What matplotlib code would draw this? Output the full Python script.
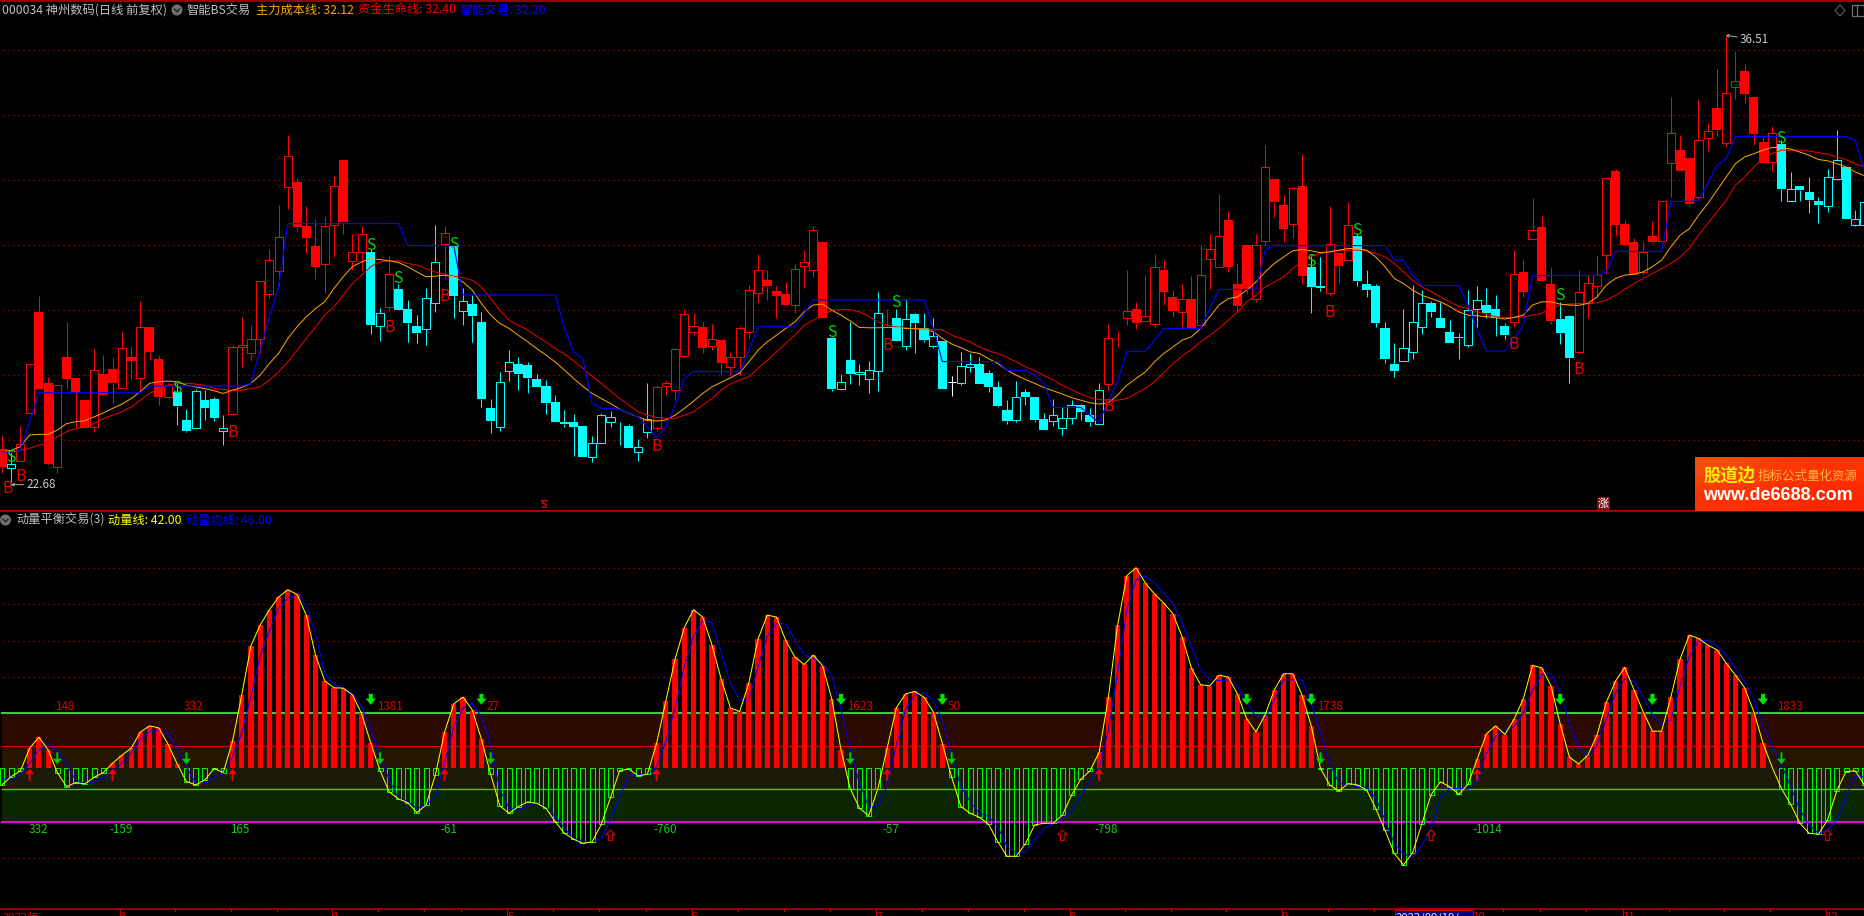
import numpy as np
import matplotlib
matplotlib.use("Agg")
import matplotlib.pyplot as plt
from matplotlib.patches import Rectangle, Circle, Polygon

plt.rcParams['font.family'] = ['Noto Sans CJK SC', 'DejaVu Sans']

# ---------- price panel data ----------
kinds = ("FHRRFFRFFF" "RFFRFRFFRC" "CHCCHRRRRR" "RRFFFRRFRR" "CHRCCCHHRC"
         "HCCCHHCCCC" "CCCCHHHCCH" "HRRRRRFRFR" "RRRFFFRRRF" "CHCHHHFCHC"
         "CHCWHHCCCC" "HCCCHHHCCH" "RFRFRRFFRF" "RRRFFFRRFF" "RFCCRFRCCC"
         "CCHHHCCCCH" "HCCCRFRFFC" "CRRRRFFFRF" "RRFFRRFRRF" "FFRCHCCCHH" "CHH")

body_top = [23.77,23.33,23.92,26.41,27.99,25.80,25.76,26.61,25.97,25.28,
26.20,26.08,26.24,26.90,26.61,27.52,27.52,26.54,25.74,25.54,
24.67,25.57,25.28,25.33,24.41,26.92,26.99,27.18,28.94,29.61,
30.31,32.81,31.99,30.64,30.02,30.65,31.87,32.67,29.83,30.41,
29.85,27.98,29.18,28.69,28.10,27.56,28.44,29.52,30.44,30.02,
28.32,28.24,27.68,25.04,25.83,26.47,26.41,26.36,25.93,25.71,
25.22,24.61,24.60,24.48,23.95,24.84,24.75,24.31,24.48,23.83,
24.69,25.69,25.80,26.87,27.92,27.58,27.52,27.15,27.13,26.62,
27.49,28.66,29.30,28.99,28.64,28.56,29.33,29.52,30.53,30.14,
27.21,25.83,26.51,26.15,26.20,27.95,27.98,27.80,27.78,27.93,
27.49,27.25,27.09,25.84,26.34,26.41,26.39,26.11,25.68,24.97,
25.37,25.53,25.38,24.69,24.84,24.74,25.14,25.12,24.81,25.61,
27.21,27.11,28.03,28.10,27.88,29.39,29.30,28.47,28.40,28.41,
29.12,29.95,30.35,30.82,28.87,30.05,30.07,32.47,32.08,31.28,
31.80,31.87,29.38,28.79,30.10,29.82,30.66,30.34,28.85,28.79,
27.50,26.41,26.90,27.70,28.26,28.27,27.81,27.38,27.24,28.07,
28.35,28.21,28.10,27.58,29.18,29.22,30.53,30.61,28.85,27.78,
27.87,28.62,28.90,29.15,32.13,32.33,30.70,30.16,29.83,30.33,
31.40,33.52,32.98,32.73,33.30,33.58,34.28,34.75,35.12,35.41,
34.61,33.22,33.52,33.18,31.79,31.87,31.69,31.42,32.16,32.66,
32.45,30.87,31.37]

body_bottom = [23.21,23.20,23.42,24.89,25.63,23.33,23.21,25.94,25.54,24.43,
24.46,25.45,25.80,25.67,26.49,25.95,26.77,25.37,25.39,25.11,
24.34,24.41,25.04,24.74,24.34,24.87,26.92,26.72,27.18,28.56,
29.25,31.85,30.62,30.28,29.39,29.46,30.66,30.76,29.58,29.85,
27.60,27.58,28.15,28.05,27.66,27.35,27.46,28.26,30.08,28.48,
28.03,27.88,25.32,24.64,24.46,26.19,26.10,25.97,25.69,25.20,
24.62,24.56,24.46,23.54,23.52,23.95,24.62,24.29,23.82,23.69,
24.31,24.43,25.72,25.61,26.65,27.38,26.89,26.95,26.43,26.31,
26.60,27.38,28.59,28.80,28.49,28.22,28.22,29.42,29.30,27.82,
25.62,25.64,26.09,26.10,25.92,26.19,27.95,27.11,26.96,27.66,
27.13,26.96,25.63,25.84,25.80,26.29,25.79,25.69,25.10,24.65,
24.66,25.39,24.68,24.37,24.63,24.41,24.72,24.92,24.62,24.56,
25.79,27.10,27.80,27.66,27.72,27.64,28.62,28.03,28.01,27.46,
27.59,29.64,29.39,29.39,28.19,28.69,28.41,30.19,31.37,30.55,
30.72,29.11,28.77,28.74,28.59,29.42,29.61,28.95,28.68,27.66,
26.55,26.19,26.49,26.75,27.52,28.00,27.50,27.05,27.20,26.99,
28.10,27.95,27.83,27.29,27.69,28.61,30.25,28.95,27.71,27.35,
26.59,26.75,28.28,28.80,29.76,30.68,30.05,29.13,29.23,30.15,
30.19,32.59,32.33,31.31,31.54,33.36,33.59,33.21,34.92,34.70,
33.47,32.57,32.60,31.79,31.40,31.74,31.44,31.29,31.27,32.08,
30.86,30.68,30.68]

highs = [24.18,23.69,24.48,26.41,28.48,26.00,25.76,27.68,25.97,25.28,
26.85,26.67,26.62,27.38,26.95,28.33,27.52,26.67,25.80,25.80,
25.00,25.64,25.59,25.39,24.84,26.98,27.85,27.59,28.94,29.95,
31.28,33.44,32.12,31.25,30.87,30.95,32.17,32.67,30.41,30.64,
29.95,28.13,29.74,28.87,28.38,27.90,28.72,30.67,30.64,30.05,
28.75,28.51,28.00,25.33,26.15,26.84,26.60,26.46,26.10,25.90,
25.44,24.98,24.87,24.48,24.18,24.90,24.95,24.62,24.54,24.08,
25.80,25.76,25.90,26.87,28.10,27.95,27.69,27.62,27.13,26.77,
27.56,28.82,29.78,29.30,28.79,28.92,29.46,29.90,30.60,30.14,
27.21,26.10,27.68,26.41,26.48,28.60,28.10,28.10,28.36,27.97,
27.98,27.80,27.09,26.02,26.75,26.72,26.60,26.21,25.87,25.28,
25.87,25.64,25.38,24.90,25.31,25.08,25.28,25.16,25.03,25.80,
27.62,27.41,29.30,28.31,29.13,29.78,29.59,28.67,28.87,29.10,
30.07,30.41,31.62,31.11,29.49,30.05,30.41,33.13,32.08,31.59,
31.80,32.87,29.74,29.69,31.25,29.82,31.37,30.41,29.30,28.87,
27.69,27.03,28.10,28.82,28.67,28.33,28.31,27.76,27.36,28.67,
28.80,28.72,28.51,27.66,29.90,29.62,31.52,30.94,29.39,28.31,
27.90,29.28,29.13,29.74,32.13,32.41,30.87,30.26,30.19,30.79,
31.40,34.60,33.44,32.73,34.51,33.80,35.49,36.51,36.02,35.62,
34.61,33.44,33.71,33.28,32.30,31.87,32.15,31.54,32.39,33.59,
32.45,31.15,31.52]

lows = [23.05,22.68,23.42,24.89,25.63,23.30,23.03,25.63,24.46,24.43,
24.31,25.45,25.18,25.67,25.94,25.54,26.51,25.12,25.39,24.51,
24.31,24.41,24.67,24.65,23.90,24.80,26.31,26.49,26.72,28.43,
28.79,31.18,30.49,29.80,29.02,28.59,29.69,30.41,29.30,29.26,
27.33,27.11,28.07,28.05,27.08,27.03,26.99,28.00,29.03,27.82,
27.59,27.08,25.06,24.28,24.34,25.88,25.59,25.49,25.69,24.85,
24.62,24.46,23.57,23.54,23.39,23.95,24.46,23.90,23.82,23.42,
24.12,24.33,25.44,25.33,26.60,27.28,26.72,26.82,26.05,26.05,
26.05,27.18,28.31,28.36,27.82,28.20,27.97,28.75,29.06,27.82,
25.57,25.61,25.77,25.74,25.51,25.57,27.56,27.11,26.84,26.72,
27.08,26.90,25.63,25.42,25.76,26.15,25.79,25.54,25.08,24.56,
24.62,25.13,24.62,24.37,24.48,24.21,24.54,24.67,24.48,24.56,
25.61,26.91,27.59,27.47,27.72,27.54,28.21,27.85,27.54,27.44,
27.49,28.69,29.39,29.23,28.00,28.56,28.31,30.05,30.92,30.15,
30.26,28.87,27.95,28.64,28.51,28.89,29.59,28.79,28.46,27.54,
26.43,26.00,26.49,26.56,27.33,27.85,27.49,27.05,26.56,26.92,
27.54,27.80,27.25,27.18,27.54,28.46,30.25,28.95,27.62,27.00,
25.82,26.75,27.82,28.46,29.18,30.33,30.05,29.13,29.13,30.10,
30.15,31.54,32.33,31.25,31.44,32.95,33.41,33.10,34.54,34.43,
33.13,32.57,32.33,31.41,31.40,31.42,31.05,30.74,31.08,32.05,
30.86,30.64,30.64]

cost_line = [23.69,23.74,23.85,24.21,24.23,24.23,24.36,24.56,24.62,24.65,
24.77,24.89,25.03,25.16,25.33,25.54,25.80,25.85,25.87,25.85,
25.74,25.69,25.64,25.57,25.49,25.59,25.67,25.80,26.05,26.41,
26.72,27.18,27.54,27.85,28.10,28.31,28.72,29.08,29.39,29.54,
29.64,29.61,29.57,29.52,29.39,29.23,29.08,29.10,29.13,29.08,
28.92,28.67,28.26,27.90,27.64,27.49,27.28,27.08,26.87,26.67,
26.46,26.21,25.95,25.71,25.49,25.33,25.18,25.00,24.87,24.77,
24.65,24.64,24.67,24.82,25.03,25.25,25.49,25.69,25.83,25.97,
26.12,26.46,26.82,27.08,27.28,27.49,27.69,28.00,28.21,28.24,
28.05,27.90,27.72,27.52,27.51,27.51,27.52,27.52,27.49,27.48,
27.47,27.39,27.18,27.01,26.90,26.77,26.72,26.56,26.41,26.21,
26.05,25.92,25.80,25.67,25.57,25.47,25.36,25.28,25.20,25.16,
25.20,25.44,25.74,25.95,26.15,26.46,26.72,26.92,27.13,27.23,
27.49,27.85,28.21,28.41,28.46,28.67,28.92,29.23,29.49,29.69,
29.88,29.92,29.88,29.82,29.85,29.90,29.95,29.95,29.90,29.69,
29.39,29.03,28.87,28.67,28.51,28.41,28.31,28.17,28.00,27.90,
27.88,27.85,27.82,27.78,27.83,27.90,28.21,28.31,28.31,28.24,
28.21,28.20,28.26,28.46,28.82,29.03,29.13,29.16,29.23,29.39,
29.59,30.00,30.36,30.56,30.97,31.33,31.74,32.15,32.56,32.77,
32.87,32.98,33.06,33.06,33.01,32.92,32.82,32.69,32.65,32.56,
32.46,32.31,32.19]

life_line = [23.69,23.72,23.74,23.80,23.90,23.95,24.16,24.31,24.41,24.44,
24.56,24.72,24.82,24.92,25.08,25.28,25.49,25.64,25.74,25.80,
25.80,25.78,25.74,25.64,25.61,25.57,25.59,25.64,25.69,25.90,
26.15,26.46,26.82,27.18,27.54,27.90,28.15,28.51,28.87,29.13,
29.39,29.54,29.57,29.57,29.49,29.44,29.33,29.23,29.16,29.10,
29.05,28.97,28.77,28.41,28.05,27.74,27.59,27.44,27.25,27.08,
26.87,26.70,26.49,26.26,26.02,25.80,25.57,25.33,25.13,24.92,
24.82,24.75,24.72,24.72,24.82,24.92,25.13,25.33,25.59,25.78,
25.90,26.00,26.26,26.51,26.77,27.03,27.28,27.59,27.74,27.90,
28.05,28.07,28.07,28.00,27.87,27.69,27.59,27.54,27.51,27.49,
27.47,27.46,27.44,27.28,27.18,27.08,26.92,26.80,26.72,26.60,
26.46,26.31,26.19,26.05,25.90,25.74,25.61,25.47,25.36,25.30,
25.28,25.28,25.33,25.49,25.64,25.85,26.12,26.41,26.64,26.84,
27.08,27.28,27.49,27.74,28.00,28.31,28.51,28.77,28.92,29.08,
29.33,29.54,29.71,29.80,29.85,29.88,29.90,29.90,29.88,29.80,
29.69,29.49,29.23,28.97,28.77,28.62,28.46,28.31,28.17,28.10,
28.00,27.93,27.85,27.83,27.82,27.85,27.90,27.95,28.10,28.21,
28.24,28.26,28.26,28.28,28.36,28.51,28.69,28.87,29.03,29.18,
29.33,29.49,29.69,29.95,30.36,30.72,31.08,31.44,31.90,32.15,
32.46,32.72,32.87,32.98,32.98,32.98,32.95,32.90,32.85,32.77,
32.69,32.56,32.46]

smart_line = [23.69,23.69,23.74,24.62,25.51,25.51,25.51,25.51,25.51,25.51,
25.51,25.51,25.51,25.51,25.51,25.51,25.72,25.72,25.72,25.72,
25.72,25.72,25.72,25.72,25.72,25.72,25.72,25.80,26.82,27.85,
28.77,30.72,30.72,30.72,30.72,30.72,30.72,30.72,30.72,30.72,
30.72,30.72,30.72,30.72,30.04,30.04,30.04,30.04,30.04,30.04,
28.52,28.52,28.52,28.52,28.52,28.52,28.52,28.52,28.52,28.52,
28.52,27.49,26.77,26.56,25.18,25.03,25.03,25.00,24.87,24.77,
24.46,24.13,24.46,25.13,25.95,26.16,26.16,26.16,26.16,26.16,
26.16,26.82,27.54,27.54,27.54,27.54,27.54,27.95,28.37,28.37,
28.37,28.37,28.37,28.37,28.37,28.37,28.37,28.37,28.37,28.37,
28.37,27.49,26.47,26.47,26.47,26.47,26.47,26.47,26.47,26.20,
26.20,26.20,26.05,25.80,25.06,25.06,25.06,25.06,24.82,24.59,
25.28,25.85,26.78,26.78,26.78,27.13,27.49,27.49,27.49,27.49,
27.49,28.10,28.69,28.69,28.69,28.69,28.71,29.90,30.04,30.04,
30.04,30.04,30.04,30.04,30.04,30.04,30.04,30.04,30.04,30.04,
30.04,29.59,29.59,29.13,28.81,28.81,28.81,28.81,28.81,28.21,
27.44,26.80,26.79,26.79,27.18,27.59,29.12,29.12,29.12,29.12,
29.12,29.12,29.12,29.12,29.23,29.86,29.86,29.86,29.86,29.86,
29.86,31.40,31.40,31.40,31.44,31.95,32.51,32.72,33.40,33.40,
33.40,33.40,33.40,33.40,33.40,33.40,33.40,33.40,33.40,33.40,
33.40,33.28,32.36]

price_grid = [36.07, 34.07, 32.07, 30.07, 28.07, 26.07, 24.07]

# (bar position, price) of the signal letters
sell_x = [1, 19, 40, 43, 49, 90, 97, 142, 147, 169, 193]
sell_y = [23.51, 25.64, 30.05, 29.03, 30.08, 27.38, 28.29, 29.56, 30.51, 28.50, 33.35]
buy_x = [0.65, 2, 25, 42, 48, 71, 96, 120, 144, 164, 171]
buy_y = [22.56, 22.94, 24.29, 27.52, 28.48, 23.87, 26.95, 25.08, 27.99, 26.99, 26.24]

# ---------- momentum panel data ----------
momentum = [42.02,45.86,48.47,58.90,63.97,58.13,47.70,41.25,43.09,42.48,
45.55,47.70,52.00,55.68,58.90,66.27,69.18,68.26,60.74,51.69,
43.55,42.02,44.32,49.54,47.70,62.12,83.30,106.02,115.53,122.59,
128.42,131.80,129.65,120.14,101.72,89.90,86.68,86.53,83.46,74.86,
61.20,48.62,38.80,35.57,33.89,29.28,32.81,46.62,66.27,79.31,
82.38,76.55,63.04,46.93,32.35,28.97,32.04,34.19,33.58,31.28,
25.14,19.77,17.00,15.16,15.78,23.91,36.34,48.62,49.23,46.16,
46.93,61.20,80.54,99.88,114.30,122.59,119.21,106.48,90.67,77.47,
75.78,88.83,109.09,120.14,119.21,108.47,100.80,97.42,101.72,96.81,
81.46,58.13,40.33,31.28,27.90,40.33,58.90,77.47,83.92,84.99,
82.38,75.63,60.90,45.55,32.04,28.97,27.13,23.91,15.93,9.18,
9.18,15.01,23.60,24.37,24.37,28.05,37.26,44.63,48.47,57.06,
82.38,115.53,138.25,141.93,134.87,129.80,125.66,120.75,110.01,95.73,
88.06,87.60,92.51,91.59,83.76,72.41,66.42,74.25,85.76,93.13,
93.13,83.30,69.18,49.54,42.02,39.26,42.63,42.02,39.72,31.12,
21.15,10.56,5.19,10.87,24.22,37.57,43.40,41.25,37.72,42.33,
53.84,65.50,69.18,65.19,72.25,81.61,96.96,95.89,87.60,70.10,
54.76,51.69,55.68,65.04,79.93,89.75,96.04,85.76,75.63,66.73,
66.73,82.38,99.88,110.93,109.39,106.32,104.17,98.03,92.51,86.68,
75.63,61.20,50.00,40.33,33.12,24.37,19.77,19.31,25.91,39.41,
48.16,48.47,42.00]

momentum_avg = [44.63,44.63,46.62,52.00,58.13,60.44,57.83,51.23,44.32,42.48,
43.55,45.55,48.16,52.00,56.60,62.74,66.57,67.34,65.81,58.90,
50.46,42.79,42.79,45.55,47.39,55.06,65.81,82.69,101.11,112.62,
123.36,127.96,129.50,124.13,111.85,93.43,88.06,86.53,84.22,78.08,
67.34,55.06,44.32,35.88,34.35,31.28,32.81,36.65,52.00,68.88,
77.32,79.62,73.48,59.67,39.72,31.28,30.51,32.04,33.58,31.74,
27.44,22.07,17.46,15.93,15.93,17.46,25.91,36.65,46.62,46.62,
46.93,50.46,61.97,77.32,96.50,110.31,117.68,116.76,102.64,88.83,
81.15,81.15,96.50,110.31,116.15,115.99,108.78,101.87,100.34,98.04,
91.90,76.55,58.13,42.79,32.04,32.35,41.25,60.44,76.55,83.46,
84.22,81.15,71.95,55.06,41.25,34.35,28.97,27.44,22.84,13.63,
10.87,11.17,16.70,22.07,24.37,26.67,29.74,37.42,43.55,49.69,
67.34,93.43,122.59,136.40,138.25,134.87,130.27,125.35,116.45,105.71,
94.97,90.36,90.06,90.36,87.29,79.62,73.48,72.71,81.15,90.36,
90.36,90.36,79.62,65.81,52.00,42.79,42.02,41.25,40.95,35.88,
25.91,15.16,10.25,8.72,14.40,22.07,35.88,40.48,40.33,40.02,
43.55,56.60,64.27,67.34,68.88,75.02,85.76,92.66,93.43,84.22,
70.41,59.36,55.06,60.44,71.95,84.22,90.67,89.60,82.69,74.25,
70.10,71.95,87.29,101.11,108.01,108.78,105.71,101.87,95.73,89.60,
81.92,68.88,59.67,51.23,41.25,30.51,23.60,19.77,21.30,25.91,
36.65,45.86,45.86]

momentum_grid = [8.33, 91.67, 108.33, 125.0, 141.67]
zero_level = 50
band_levels = [25, 40, 50, 60, 75]
band_colors = ['#0a2600', '#1a1a06', '#261600', '#2b0a00']

thick_down = [40, 52, 91, 102, 135, 142, 169, 179, 191]
thin_down = [6, 20, 41, 53, 92, 103, 143, 193]
solid_up = [3, 12, 25, 48, 71, 96, 119, 160]
hollow_up = [66, 115, 155, 198]

red_tags = ['148', '332', '1381', '27', '1623', '50', '1738', '1833']
red_tag_x = [6.8, 20.8, 42.1, 53.3, 93.1, 103.3, 144.0, 193.9]
red_tag_y = 78.1
green_tags = ['332', '-159', '165', '-61', '-760', '-57', '-798', '-1014']
green_tag_x = [3.9, 12.9, 25.8, 48.5, 71.9, 96.4, 119.8, 161.1]
green_tag_y = 21.6

month_ticks = [13, 36, 55, 75, 95, 116, 139, 159.7, 176, 198]
month_labels = ['3', '4', '5', '6', '7', '8', '9', '10', '11', '12']
minor_ticks = [19, 25, 30, 41, 46, 50, 60, 65, 70, 80, 85, 90, 100, 105, 111, 122,
               127, 133, 144, 149, 163, 167, 172, 181, 187, 192]

# ---------- figure ----------
W, H = 1864, 916
fig = plt.figure(figsize=(W / 100, H / 100), dpi=100, facecolor='black')
top_px, mid_px, bot_px = 0.5, 511.0, 909.3
ax1 = fig.add_axes([0, 1 - mid_px / H, 1, (mid_px - top_px) / H])
ax2 = fig.add_axes([0, 1 - bot_px / H, 1, (bot_px - mid_px) / H])
ov = fig.add_axes([0, 0, 1, 1], zorder=10)
ov.patch.set_alpha(0)
ov.axis('off')

XL = (-0.217, 201.95)
GRID_RED = '#c00000'
for ax in (ax1, ax2):
    ax.set_facecolor('black')
    ax.set_xlim(*XL)
    for s in ('left', 'right'):
        ax.spines[s].set_visible(False)
    for s in ('top', 'bottom'):
        ax.spines[s].set_color(GRID_RED)
        ax.spines[s].set_linewidth(1.1)
    ax.set_yticks([])
    ax.margins(0)
ax1.set_ylim(21.87, 37.585)
ax2.set_ylim(-15.2, 168.0)
ax1.set_xticks([])

x = np.arange(len(kinds))
kind_arr = np.array(list(kinds))
top = np.array(body_top)
bottom = np.array(body_bottom)
hi = np.array(highs)
lo = np.array(lows)

# price grid
for g in price_grid:
    ax1.axhline(g, xmin=3 / W, color='#b00000', lw=0.9, ls=(0, (1, 3)), zorder=1)

# candles
PX = 0.72
styles = {'F': ('#ff0000', True), 'R': ('#ff0000', False),
          'C': ('#00ffff', True), 'H': ('#00ffff', False), 'W': ('#ffffff', False)}
for k, (col, filled) in styles.items():
    m = kind_arr == k
    ax1.vlines(x[m], top[m], hi[m], color=col, lw=PX, zorder=2, antialiased=True)
    ax1.vlines(x[m], lo[m], bottom[m], color=col, lw=PX, zorder=2, antialiased=True)
    ax1.bar(x[m], (top - bottom)[m], bottom=bottom[m], width=0.98 if filled else 0.88,
            facecolor=col if filled else 'black', edgecolor=col,
            linewidth=0.0 if filled else PX, zorder=3)

ax1.plot(x, life_line, color='#f00000', lw=PX, zorder=4)
ax1.plot(x, cost_line, color='#ffa500', lw=PX, zorder=5)
ax1.plot(x, smart_line, color='#0000ff', lw=0.85, zorder=6)

for sx, sy in zip(sell_x, sell_y):
    ax1.text(sx, sy, 'S', color='#00d800', fontsize=11.5, ha='center', va='center', zorder=7)
for bx, by in zip(buy_x, buy_y):
    ax1.text(bx, by, 'B', color='#e60000', fontsize=11.5, ha='center', va='center', zorder=7)

# extreme price marks
imax = int(np.argmax(hi))
imin = int(np.argmin(lo))
GREY = '#c8c8c8'
ax1.annotate('36.51', xy=(imax, hi[imax]), xytext=(10, -3), textcoords='offset points',
             color=GREY, fontsize=8.4, va='center', zorder=8,
             arrowprops=dict(arrowstyle='->,head_length=0.2,head_width=0.12', color=GREY, lw=0.6,
                             shrinkA=0, shrinkB=0))
ax1.annotate('22.68', xy=(imin, lo[imin]), xytext=(11, 0), textcoords='offset points',
             color=GREY, fontsize=8.4, va='center', zorder=8,
             arrowprops=dict(arrowstyle='->,head_length=0.2,head_width=0.12', color=GREY, lw=0.6,
                             shrinkA=0, shrinkB=0))

# momentum panel: bands
for lo_b, hi_b, c in zip(band_levels[:-1], band_levels[1:], band_colors):
    ax2.axhspan(lo_b, hi_b, xmin=2 / W, facecolor=c, edgecolor='none', zorder=1)
for g in momentum_grid:
    ax2.axhline(g, xmin=3 / W, color='#b00000', lw=0.9, ls=(0, (1, 3)), zorder=1)
ax2.axhline(75, xmin=2 / W, color='#40c840', lw=1.5, zorder=2)
ax2.axhline(60, xmin=2 / W, color='#e00000', lw=0.8, zorder=2)
ax2.axhline(40, xmin=2 / W, color='#10e010', lw=1.0, zorder=2)
ax2.axhline(25, xmin=2 / W, color='#e000e0', lw=1.5, zorder=2)

mom = np.array(momentum)
up = mom >= zero_level
ax2.bar(x[up], (mom - zero_level)[up], bottom=zero_level, width=0.56, facecolor='#ff0000',
        edgecolor='none', zorder=3)
ax2.bar(x[~up], (mom - zero_level)[~up], bottom=zero_level, width=0.54, facecolor='none',
        edgecolor='#00ff00', linewidth=0.7, zorder=3)
ax2.plot(x, momentum_avg, color='#0000ff', lw=PX, zorder=4)
ax2.plot(x, momentum, color='#ffff00', lw=PX, zorder=5)


def arrow(i, tail, tip, style, fc, ec, lw=0):
    ax2.annotate('', xy=(i, tip), xytext=(i, tail), zorder=6,
                 arrowprops=dict(arrowstyle=style, mutation_scale=1, facecolor=fc, edgecolor=ec,
                                 lw=lw, shrinkA=0, shrinkB=0))


for i in thick_down:
    arrow(i, 83.9, 78.85, 'simple,head_length=4.5,head_width=7.5,tail_width=3', '#00e600', '#00e600')
for i in thin_down:
    arrow(i, 57.0, 51.5, 'simple,head_length=4,head_width=6.5,tail_width=1.4', '#00c800', '#00c800')
for i in solid_up:
    arrow(i, 43.9, 49.5, 'simple,head_length=4,head_width=6.5,tail_width=1.4', '#f00000', '#f00000')
for i in hollow_up:
    arrow(i, 16.4, 21.3, 'simple,head_length=3.5,head_width=6.5,tail_width=2.6', 'black', '#e00000', 0.8)

for t, tx in zip(red_tags, red_tag_x):
    ax2.text(tx, red_tag_y, t, color='#e00000', fontsize=8.4, ha='center', va='center', zorder=7)
for t, tx in zip(green_tags, green_tag_x):
    ax2.text(tx, green_tag_y, t, color='#10d010', fontsize=8.4, ha='center', va='center', zorder=7)

# date axis
ax2.set_xticks([m - 0.2 for m in month_ticks])
ax2.set_xticklabels(month_labels, ha='left')
ax2.set_xticks([m - 0.2 for m in minor_ticks], minor=True)
ax2.tick_params(axis='x', which='major', length=5.5, width=0.9, color=GRID_RED, labelcolor='#e00000',
                labelsize=8.2, pad=-3.2)
ax2.tick_params(axis='x', which='minor', length=2.2, width=0.9, color=GRID_RED)

# ---------- overlay in pixel space: panel titles and small furniture ----------
ov.set_xlim(0, W)
ov.set_ylim(H, 0)


def title(px, py, s, c, size=8.8):
    ov.text(px, py, s, color=c, fontsize=size, ha='left', va='center')


def icon(cx, cy):
    ov.add_patch(Circle((cx, cy), 5.5, facecolor='#707070', edgecolor='none'))
    ov.plot([cx - 2.5, cx, cx + 2.5], [cy - 1, cy + 1.8, cy - 1], color='#202020', lw=1.0)


title(2, 10, '000034 神州数码(日线 前复权)', '#c0c0c0')
icon(177, 10)
title(187, 10, '智能BS交易', '#c0c0c0')
title(256, 10, '主力成本线: 32.12', '#ffa500')
title(358, 10, '资金生命线: 32.40', '#ff0000')
title(460, 10, '智能交易: 32.20', '#0000ff')

icon(5.5, 520)
title(16, 520, '动量平衡交易(3)', '#c0c0c0')
title(108, 520, '动量线: 42.00', '#ffff00')
title(186, 520, '动量均线: 46.00', '#0000ff')

# top right buttons
ov.add_patch(Polygon([(1840, 5), (1845, 10.5), (1840, 16), (1835, 10.5)], closed=True,
                     facecolor='none', edgecolor='#606060', lw=0.8))
ov.add_patch(Rectangle((1852, 5), 12, 11, facecolor='none', edgecolor='#707070', lw=0.9))
ov.plot([1857, 1857], [5, 16], color='#707070', lw=0.9)

# event marks at the foot of the price panel
ov.text(543.7, 504.5, 'S', color='#e00000', fontsize=7.5, fontweight='bold', ha='center', va='center')
ov.plot([541, 546.5], [499.5, 499.5], color='#e00000', lw=0.8)
ov.add_patch(Rectangle((1597, 497), 13, 13, facecolor='#801010', edgecolor='none'))
ov.text(1603.5, 503.5, '涨', color='white', fontsize=8, ha='center', va='center')

# banner
grad = np.array([[[0.96, 0.30, 0.06], [1.0, 0.22, 0.0], [1.0, 0.20, 0.0]],
                 [[0.98, 0.20, 0.02], [1.0, 0.17, 0.0], [0.98, 0.15, 0.0]]])
ov.imshow(grad, extent=(1695, W, 511, 457), aspect='auto', interpolation='bilinear', zorder=1)
ov.set_xlim(0, W)
ov.set_ylim(H, 0)
ov.text(1704, 476, '股道边', color='#ffee00', fontsize=12.5, fontweight='bold', ha='left', va='center', zorder=2)
ov.text(1758, 476, '指标公式量化资源', color='#ffb840', fontsize=9, ha='left', va='center', zorder=2)
ov.text(1703, 495.5, 'www.de6688.com', color='white', fontsize=13.0, fontweight='bold',
        family='Liberation Sans', ha='left', va='center', zorder=2)

# cursor date box
ov.add_patch(Rectangle((1394.5, 909.8), 78, 8, facecolor='#000080', edgecolor='#d00000', lw=0.7, zorder=2))
ov.text(1396, 912.6, '2022/09/19/一', color='#e8e8e8', fontsize=8.2, ha='left', va='top', zorder=3)
ov.text(3, 912.6, '2022年', color='#e00000', fontsize=8.2, ha='left', va='top')

fig.savefig('out.png', dpi=100, facecolor='black')
